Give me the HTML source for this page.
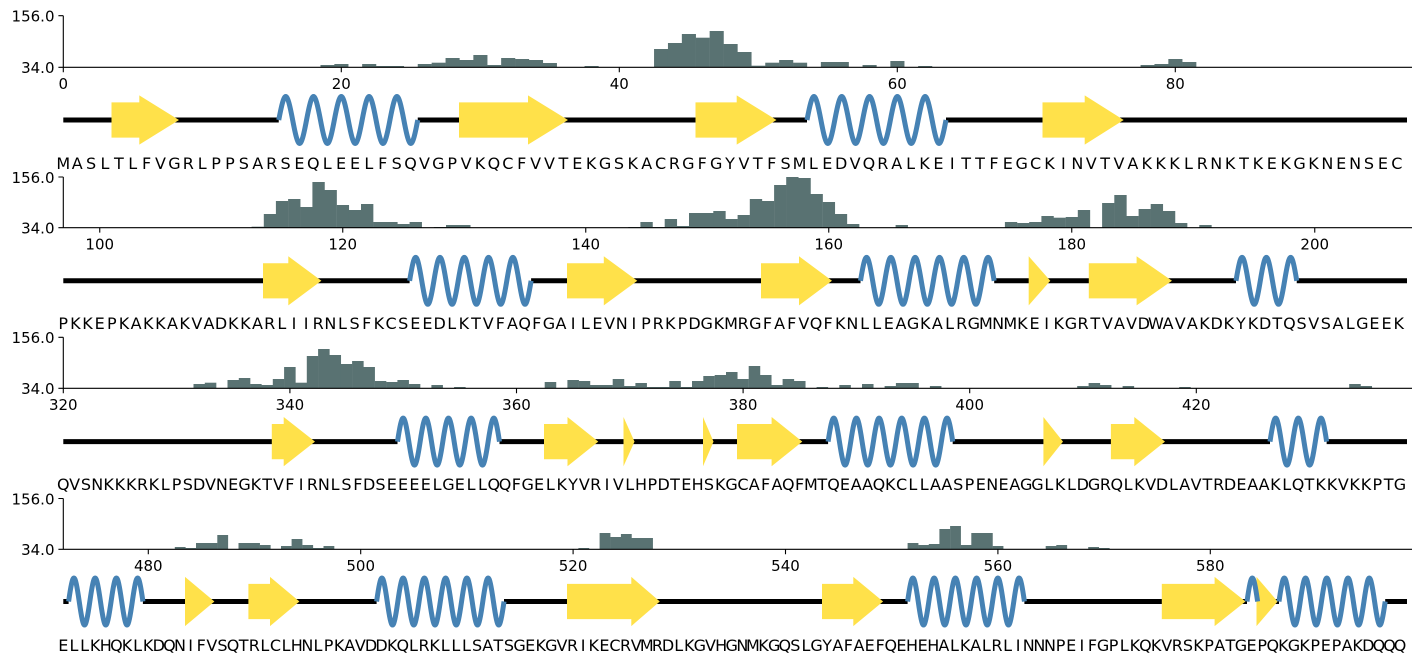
<!DOCTYPE html>
<html><head><meta charset="utf-8">
<style>
html,body{margin:0;padding:0;background:#fff;}
body{width:1425px;height:664px;position:relative;overflow:hidden;}
svg{position:absolute;left:0;top:0;}
.s{position:absolute;display:flex;font:16px/20px "DejaVu Sans","Liberation Sans",sans-serif;color:#000;white-space:nowrap;}
.s i{font-style:normal;display:flex;justify-content:center;flex:none;}
.r1 i{width:13.9px}.r2 i{width:12.15px}.r3 i{width:11.33px}.r4 i{width:10.62px}
</style></head><body>
<svg width="1425" height="664" viewBox="0 0 1425 664" xmlns="http://www.w3.org/2000/svg" font-family="DejaVu Sans, Liberation Sans, sans-serif" font-size="15">

<!-- ROW 1 -->
<g>
<g fill="#597272">
<rect x="320.45" y="65" width="14.1" height="2.3"/>
<rect x="334.35" y="64" width="14.1" height="3.3"/>
<rect x="362.15" y="64" width="14.1" height="3.3"/>
<rect x="376.05" y="66" width="28" height="1.3"/>
<rect x="417.75" y="64" width="14.1" height="3.3"/>
<rect x="431.65" y="62.7" width="14.1" height="4.6"/>
<rect x="445.55" y="58" width="14.1" height="9.3"/>
<rect x="459.45" y="60" width="14.1" height="7.3"/>
<rect x="473.35" y="55" width="14.1" height="12.3"/>
<rect x="487.25" y="65" width="14.1" height="2.3"/>
<rect x="501.15" y="58" width="14.1" height="9.3"/>
<rect x="515.05" y="59" width="14.1" height="8.3"/>
<rect x="528.95" y="60" width="14.1" height="7.3"/>
<rect x="542.85" y="63" width="14.1" height="4.3"/>
<rect x="584.55" y="66" width="14.1" height="1.3"/>
<rect x="654.05" y="49" width="14.1" height="18.3"/>
<rect x="667.95" y="43" width="14.1" height="24.3"/>
<rect x="681.85" y="34" width="14.1" height="33.3"/>
<rect x="695.75" y="37.7" width="14.1" height="29.6"/>
<rect x="709.65" y="31" width="14.1" height="36.3"/>
<rect x="723.55" y="44" width="14.1" height="23.3"/>
<rect x="737.45" y="52" width="14.1" height="15.3"/>
<rect x="751.35" y="65.7" width="14.1" height="1.6"/>
<rect x="765.25" y="62.7" width="14.1" height="4.6"/>
<rect x="779.15" y="60" width="14.1" height="7.3"/>
<rect x="793.05" y="62.7" width="14.1" height="4.6"/>
<rect x="820.85" y="62" width="28" height="5.3"/>
<rect x="862.55" y="65" width="14.1" height="2.3"/>
<rect x="890.35" y="61" width="14.1" height="6.3"/>
<rect x="918.15" y="66" width="14.1" height="1.3"/>
<rect x="1140.55" y="65" width="14.1" height="2.3"/>
<rect x="1154.45" y="64" width="14.1" height="3.3"/>
<rect x="1168.35" y="59" width="14.1" height="8.3"/>
<rect x="1182.25" y="62" width="14.1" height="5.3"/>
</g>
<path d="M63.3 15.7V67.3H1412M58.4 15.7H63.3M58.4 67.3H63.3M63.3 67.3v4.9M341.3 67.3v4.9M619.3 67.3v4.9M897.3 67.3v4.9M1175.3 67.3v4.9" stroke="#000" stroke-width="1.1" fill="none"/>
<text x="54.5" y="21.5" text-anchor="end">156.0</text>
<text x="54.5" y="73" text-anchor="end">34.0</text>
<g text-anchor="middle">
<text x="63.3" y="89">0</text><text x="341.3" y="89">20</text><text x="619.3" y="89">40</text><text x="897.3" y="89">60</text><text x="1175.3" y="89">80</text>
</g>
<path d="M63.3 120H278.75M417.75 120H807M946 120H1407" stroke="#000" stroke-width="5" fill="none"/>
<g fill="#ffe14a">
<polygon points="111.5,102.4 139.3,102.4 139.3,95.4 179,120 139.3,144.6 139.3,137.6 111.5,137.6"/>
<polygon points="459,102.4 528,102.4 528,95.4 568,120 528,144.6 528,137.6 459,137.6"/>
<polygon points="695.5,102.4 736.7,102.4 736.7,95.4 776.5,120 736.7,144.6 736.7,137.6 695.5,137.6"/>
<polygon points="1042.5,102.4 1084.7,102.4 1084.7,95.4 1123.7,120 1084.7,144.6 1084.7,137.6 1042.5,137.6"/>
</g>
<g stroke="#4682b4" stroke-width="5" fill="none">
<path d="M278.75 120c5.9 -31.3 8 -31.3 13.9 0s8 31.3 13.9 0s8 -31.3 13.9 0s8 31.3 13.9 0s8 -31.3 13.9 0s8 31.3 13.9 0s8 -31.3 13.9 0s8 31.3 13.9 0s8 -31.3 13.9 0s8 31.3 13.9 0"/>
<path d="M807 120c5.9 -31.3 8 -31.3 13.9 0s8 31.3 13.9 0s8 -31.3 13.9 0s8 31.3 13.9 0s8 -31.3 13.9 0s8 31.3 13.9 0s8 -31.3 13.9 0s8 31.3 13.9 0s8 -31.3 13.9 0s8 31.3 13.9 0"/>
</g>
</g>

<!-- ROW 2 -->
<g transform="translate(0,160.4)">
<g fill="#597272">
<rect x="251.6" y="66.3" width="12.35" height="1"/>
<rect x="263.8" y="53.6" width="12.35" height="13.7"/>
<rect x="275.9" y="40.6" width="12.35" height="26.7"/>
<rect x="288.1" y="38.6" width="12.35" height="28.7"/>
<rect x="300.2" y="46.6" width="12.35" height="20.7"/>
<rect x="312.4" y="21.6" width="12.35" height="45.7"/>
<rect x="324.5" y="29.6" width="12.35" height="37.7"/>
<rect x="336.7" y="44.6" width="12.35" height="22.7"/>
<rect x="348.8" y="49.6" width="12.35" height="17.7"/>
<rect x="361" y="43.6" width="12.35" height="23.7"/>
<rect x="373.1" y="61.6" width="24.5" height="5.7"/>
<rect x="397.4" y="63.6" width="12.35" height="3.7"/>
<rect x="409.6" y="61.6" width="12.35" height="5.7"/>
<rect x="433.9" y="66.6" width="12.35" height="0.7"/>
<rect x="446" y="64.6" width="24.5" height="2.7"/>
<rect x="628.3" y="66.6" width="12.35" height="0.7"/>
<rect x="640.4" y="61.6" width="12.35" height="5.7"/>
<rect x="652.6" y="66.6" width="12.35" height="0.7"/>
<rect x="664.7" y="58.6" width="12.35" height="8.7"/>
<rect x="676.9" y="65.6" width="12.35" height="1.7"/>
<rect x="689" y="52.6" width="24.5" height="14.7"/>
<rect x="713.3" y="50.6" width="12.35" height="16.7"/>
<rect x="725.5" y="58.6" width="12.35" height="8.7"/>
<rect x="737.6" y="54.6" width="12.35" height="12.7"/>
<rect x="749.8" y="38.6" width="12.35" height="28.7"/>
<rect x="761.9" y="40.6" width="12.35" height="26.7"/>
<rect x="774.1" y="24.6" width="12.35" height="42.7"/>
<rect x="786.2" y="16.6" width="12.35" height="50.7"/>
<rect x="798.4" y="17.6" width="12.35" height="49.7"/>
<rect x="810.5" y="33.6" width="12.35" height="33.7"/>
<rect x="822.7" y="41.6" width="12.35" height="25.7"/>
<rect x="834.8" y="53.6" width="12.35" height="13.7"/>
<rect x="847" y="63.6" width="12.35" height="3.7"/>
<rect x="895.6" y="64.6" width="12.35" height="2.7"/>
<rect x="1004.9" y="61.6" width="12.35" height="5.7"/>
<rect x="1017.1" y="62.6" width="12.35" height="4.7"/>
<rect x="1029.2" y="61.6" width="12.35" height="5.7"/>
<rect x="1041.4" y="55.6" width="12.35" height="11.7"/>
<rect x="1053.5" y="57.3" width="12.35" height="10"/>
<rect x="1065.7" y="56.6" width="12.35" height="10.7"/>
<rect x="1077.8" y="49.6" width="12.35" height="17.7"/>
<rect x="1102.1" y="42.6" width="12.35" height="24.7"/>
<rect x="1114.3" y="34.6" width="12.35" height="32.7"/>
<rect x="1126.4" y="55.6" width="12.35" height="11.7"/>
<rect x="1138.6" y="48.6" width="12.35" height="18.7"/>
<rect x="1150.7" y="43.6" width="12.35" height="23.7"/>
<rect x="1162.9" y="50.6" width="12.35" height="16.7"/>
<rect x="1175" y="62.6" width="12.35" height="4.7"/>
<rect x="1199.3" y="64.6" width="12.35" height="2.7"/>
</g>
<path d="M63.3 16.6V67.3H1412M58.4 16.6H63.3M58.4 67.3H63.3M99.75 67.3v4.9M342.75 67.3v4.9M585.75 67.3v4.9M828.75 67.3v4.9M1071.75 67.3v4.9M1314.75 67.3v4.9" stroke="#000" stroke-width="1.1" fill="none"/>
<text x="54.5" y="22.4" text-anchor="end">156.0</text>
<text x="54.5" y="73" text-anchor="end">34.0</text>
<g text-anchor="middle">
<text x="99.75" y="89">100</text><text x="342.75" y="89">120</text><text x="585.75" y="89">140</text><text x="828.75" y="89">160</text><text x="1071.75" y="89">180</text><text x="1314.75" y="89">200</text>
</g>
<path d="M63.3 120.4H409.6M531.1 120.4H860.5M994.2 120.4H1236M1296.75 120.4H1407" stroke="#000" stroke-width="5" fill="none"/>
<g fill="#ffe14a" transform="translate(0,0.4)">
<polygon points="263,102.4 288.3,102.4 288.3,95.4 321.4,120 288.3,144.6 288.3,137.6 263,137.6"/>
<polygon points="567,102.4 603.8,102.4 603.8,95.4 637.3,120 603.8,144.6 603.8,137.6 567,137.6"/>
<polygon points="761,102.4 799,102.4 799,95.4 832,120 799,144.6 799,137.6 761,137.6"/>
<polygon points="1028.7,95.4 1050.3,120 1028.7,144.6"/>
<polygon points="1088.8,102.4 1136.6,102.4 1136.6,95.4 1172,120 1136.6,144.6 1136.6,137.6 1088.8,137.6"/>
</g>
<g stroke="#4682b4" stroke-width="5" fill="none">
<path d="M409.6 120.4c5.16 -31.3 6.99 -31.3 12.15 0s6.99 31.3 12.15 0s6.99 -31.3 12.15 0s6.99 31.3 12.15 0s6.99 -31.3 12.15 0s6.99 31.3 12.15 0s6.99 -31.3 12.15 0s6.99 31.3 12.15 0s6.99 -31.3 12.15 0s6.99 31.3 12.15 0"/>
<path d="M860.5 120.4c5.16 -31.3 6.99 -31.3 12.15 0s6.99 31.3 12.15 0s6.99 -31.3 12.15 0s6.99 31.3 12.15 0s6.99 -31.3 12.15 0s6.99 31.3 12.15 0s6.99 -31.3 12.15 0s6.99 31.3 12.15 0s6.99 -31.3 12.15 0s6.99 31.3 12.15 0s6.99 -31.3 12.15 0"/>
<path d="M1236 120.4c5.16 -31.3 6.99 -31.3 12.15 0s6.99 31.3 12.15 0s6.99 -31.3 12.15 0s6.99 31.3 12.15 0s6.99 -31.3 12.15 0"/>
</g>
</g>

<!-- ROW 3 -->
<g transform="translate(0,321)">
<g fill="#597272">
<rect x="193.5" y="63" width="11.53" height="4.3"/>
<rect x="204.8" y="61.7" width="11.53" height="5.6"/>
<rect x="227.5" y="59" width="11.53" height="8.3"/>
<rect x="238.8" y="57" width="11.53" height="10.3"/>
<rect x="250.1" y="63" width="11.53" height="4.3"/>
<rect x="261.5" y="64" width="11.53" height="3.3"/>
<rect x="272.8" y="58" width="11.53" height="9.3"/>
<rect x="284.1" y="46" width="11.53" height="21.3"/>
<rect x="295.5" y="61.7" width="11.53" height="5.6"/>
<rect x="306.8" y="35" width="11.53" height="32.3"/>
<rect x="318.1" y="28" width="11.53" height="39.3"/>
<rect x="329.5" y="34" width="11.53" height="33.3"/>
<rect x="340.8" y="43" width="11.53" height="24.3"/>
<rect x="352.1" y="40" width="11.53" height="27.3"/>
<rect x="363.4" y="46" width="11.53" height="21.3"/>
<rect x="374.8" y="60" width="11.53" height="7.3"/>
<rect x="386.1" y="61" width="11.53" height="6.3"/>
<rect x="397.4" y="59" width="11.53" height="8.3"/>
<rect x="408.8" y="63" width="11.53" height="4.3"/>
<rect x="431.4" y="64" width="11.53" height="3.3"/>
<rect x="454.1" y="66" width="11.53" height="1.3"/>
<rect x="544.7" y="61" width="11.53" height="6.3"/>
<rect x="567.4" y="59" width="11.53" height="8.3"/>
<rect x="578.7" y="60" width="11.53" height="7.3"/>
<rect x="590" y="64" width="22.9" height="3.3"/>
<rect x="612.7" y="58" width="11.53" height="9.3"/>
<rect x="624" y="65" width="11.53" height="2.3"/>
<rect x="635.4" y="62" width="11.53" height="5.3"/>
<rect x="646.7" y="66" width="22.9" height="1.3"/>
<rect x="669.3" y="60" width="11.53" height="7.3"/>
<rect x="680.7" y="66" width="11.53" height="1.3"/>
<rect x="692" y="60" width="11.53" height="7.3"/>
<rect x="703.3" y="55" width="11.53" height="12.3"/>
<rect x="714.7" y="54" width="11.53" height="13.3"/>
<rect x="726" y="51" width="11.53" height="16.3"/>
<rect x="737.3" y="58" width="11.53" height="9.3"/>
<rect x="748.7" y="45" width="11.53" height="22.3"/>
<rect x="760" y="54" width="11.53" height="13.3"/>
<rect x="771.3" y="64" width="11.53" height="3.3"/>
<rect x="782.6" y="58" width="11.53" height="9.3"/>
<rect x="794" y="60" width="11.53" height="7.3"/>
<rect x="816.6" y="66" width="11.53" height="1.3"/>
<rect x="839.3" y="64" width="11.53" height="3.3"/>
<rect x="862" y="63" width="11.53" height="4.3"/>
<rect x="884.6" y="65" width="11.53" height="2.3"/>
<rect x="895.9" y="62" width="22.9" height="5.3"/>
<rect x="929.9" y="65" width="11.53" height="2.3"/>
<rect x="1077.2" y="65" width="11.53" height="2.3"/>
<rect x="1088.6" y="62" width="11.53" height="5.3"/>
<rect x="1099.9" y="64" width="11.53" height="3.3"/>
<rect x="1122.6" y="65" width="11.53" height="2.3"/>
<rect x="1179.2" y="66" width="11.53" height="1.3"/>
<rect x="1349.2" y="63" width="11.53" height="4.3"/>
<rect x="1360.5" y="65" width="11.53" height="2.3"/>
</g>
<path d="M63.3 16.3V67.3H1412M58.4 16.3H63.3M58.4 67.3H63.3M63.3 67.3v4.9M289.9 67.3v4.9M516.5 67.3v4.9M743.1 67.3v4.9M969.7 67.3v4.9M1196.3 67.3v4.9" stroke="#000" stroke-width="1.1" fill="none"/>
<text x="54.5" y="22.1" text-anchor="end">156.0</text>
<text x="54.5" y="73" text-anchor="end">34.0</text>
<g text-anchor="middle">
<text x="63.3" y="89">320</text><text x="289.9" y="89">340</text><text x="516.5" y="89">360</text><text x="743.1" y="89">380</text><text x="969.7" y="89">400</text><text x="1196.3" y="89">420</text>
</g>
<path d="M63.3 120.6H397.5M499.5 120.6H828.1M952.7 120.6H1270M1326.65 120.6H1407" stroke="#000" stroke-width="5" fill="none"/>
<g fill="#ffe14a" transform="translate(0,0.6)">
<polygon points="271.8,102.4 283.7,102.4 283.7,95.4 315,120 283.7,144.6 283.7,137.6 271.8,137.6"/>
<polygon points="544,102.4 567.5,102.4 567.5,95.4 598.3,120 567.5,144.6 567.5,137.6 544,137.6"/>
<polygon points="623.5,95.4 634.5,120 623.5,144.6"/>
<polygon points="703,95.4 713.5,120 703,144.6"/>
<polygon points="737,102.4 771.6,102.4 771.6,95.4 802.3,120 771.6,144.6 771.6,137.6 737,137.6"/>
<polygon points="1043.4,95.4 1063,120 1043.4,144.6"/>
<polygon points="1110.9,102.4 1134.3,102.4 1134.3,95.4 1165,120 1134.3,144.6 1134.3,137.6 1110.9,137.6"/>
</g>
<g stroke="#4682b4" stroke-width="5" fill="none">
<path d="M397.5 120.6c4.81 -31.3 6.52 -31.3 11.33 0s6.52 31.3 11.33 0s6.52 -31.3 11.33 0s6.52 31.3 11.33 0s6.52 -31.3 11.33 0s6.52 31.3 11.33 0s6.52 -31.3 11.33 0s6.52 31.3 11.33 0s6.52 -31.3 11.33 0"/>
<path d="M828.1 120.6c4.81 -31.3 6.52 -31.3 11.33 0s6.52 31.3 11.33 0s6.52 -31.3 11.33 0s6.52 31.3 11.33 0s6.52 -31.3 11.33 0s6.52 31.3 11.33 0s6.52 -31.3 11.33 0s6.52 31.3 11.33 0s6.52 -31.3 11.33 0s6.52 31.3 11.33 0s6.52 -31.3 11.33 0"/>
<path d="M1270 120.6c4.81 -31.3 6.52 -31.3 11.33 0s6.52 31.3 11.33 0s6.52 -31.3 11.33 0s6.52 31.3 11.33 0s6.52 -31.3 11.33 0"/>
</g>
</g>

<!-- ROW 4 -->
<g transform="translate(0,482)">
<g fill="#597272">
<rect x="174.8" y="65" width="10.82" height="2.3"/>
<rect x="185.4" y="66" width="10.82" height="1.3"/>
<rect x="196" y="61" width="21.44" height="6.3"/>
<rect x="217.3" y="53" width="10.82" height="14.3"/>
<rect x="238.5" y="61" width="21.44" height="6.3"/>
<rect x="259.8" y="63" width="10.82" height="4.3"/>
<rect x="281" y="64" width="10.82" height="3.3"/>
<rect x="291.6" y="57" width="10.82" height="10.3"/>
<rect x="302.3" y="63" width="10.82" height="4.3"/>
<rect x="312.9" y="66" width="10.82" height="1.3"/>
<rect x="323.5" y="64" width="10.82" height="3.3"/>
<rect x="578.4" y="66" width="10.82" height="1.3"/>
<rect x="599.6" y="51" width="10.82" height="16.3"/>
<rect x="610.2" y="55" width="10.82" height="12.3"/>
<rect x="620.9" y="52" width="10.82" height="15.3"/>
<rect x="631.5" y="56" width="21.44" height="11.3"/>
<rect x="907.6" y="61" width="10.82" height="6.3"/>
<rect x="918.2" y="63" width="10.82" height="4.3"/>
<rect x="928.8" y="62" width="10.82" height="5.3"/>
<rect x="939.4" y="47" width="10.82" height="20.3"/>
<rect x="950.1" y="44" width="10.82" height="23.3"/>
<rect x="960.7" y="63" width="10.82" height="4.3"/>
<rect x="971.3" y="51" width="21.44" height="16.3"/>
<rect x="992.6" y="64" width="10.82" height="3.3"/>
<rect x="1045.7" y="64" width="10.82" height="3.3"/>
<rect x="1056.3" y="63" width="10.82" height="4.3"/>
<rect x="1088.2" y="65" width="10.82" height="2.3"/>
<rect x="1098.8" y="66" width="10.82" height="1.3"/>
</g>
<path d="M63.3 16.5V67.3H1412M58.4 16.5H63.3M58.4 67.3H63.3M148.3 67.3v4.9M360.7 67.3v4.9M573.1 67.3v4.9M785.5 67.3v4.9M997.9 67.3v4.9M1210.3 67.3v4.9" stroke="#000" stroke-width="1.1" fill="none"/>
<text x="54.5" y="22.3" text-anchor="end">156.0</text>
<text x="54.5" y="73" text-anchor="end">34.0</text>
<g text-anchor="middle">
<text x="148.3" y="89">480</text><text x="360.7" y="89">500</text><text x="573.1" y="89">520</text><text x="785.5" y="89">540</text><text x="997.9" y="89">560</text><text x="1210.3" y="89">580</text>
</g>
<path d="M63.3 119.5H68.6M142.9 119.5H376.6M504 119.5H907.6M1024.4 119.5H1247M1257.6 119.5H1279M1385.2 119.5H1407" stroke="#000" stroke-width="5" fill="none"/>
<g fill="#ffe14a" transform="translate(0,-0.5)">
<polygon points="185,95.4 214.4,120 185,144.6"/>
<polygon points="248.4,102.4 270,102.4 270,95.4 299.4,120 270,144.6 270,137.6 248.4,137.6"/>
<polygon points="567,102.4 631.3,102.4 631.3,95.4 659.8,120 631.3,144.6 631.3,137.6 567,137.6"/>
<polygon points="822,102.4 853.3,102.4 853.3,95.4 883.1,120 853.3,144.6 853.3,137.6 822,137.6"/>
<polygon points="1161.8,102.4 1214.6,102.4 1214.6,95.4 1245.5,120 1214.6,144.6 1214.6,137.6 1161.8,137.6"/>
<polygon points="1256.5,95.4 1277.6,120 1256.5,144.6"/>
</g>
<g stroke="#4682b4" stroke-width="5" fill="none">
<path d="M68.6 119.5c4.51 -31.3 6.11 -31.3 10.62 0s6.11 31.3 10.62 0s6.11 -31.3 10.62 0s6.11 31.3 10.62 0s6.11 -31.3 10.62 0s6.11 31.3 10.62 0s6.11 -31.3 10.62 0"/>
<path d="M376.6 119.5c4.51 -31.3 6.11 -31.3 10.62 0s6.11 31.3 10.62 0s6.11 -31.3 10.62 0s6.11 31.3 10.62 0s6.11 -31.3 10.62 0s6.11 31.3 10.62 0s6.11 -31.3 10.62 0s6.11 31.3 10.62 0s6.11 -31.3 10.62 0s6.11 31.3 10.62 0s6.11 -31.3 10.62 0s6.11 31.3 10.62 0"/>
<path d="M907.6 119.5c4.51 -31.3 6.11 -31.3 10.62 0s6.11 31.3 10.62 0s6.11 -31.3 10.62 0s6.11 31.3 10.62 0s6.11 -31.3 10.62 0s6.11 31.3 10.62 0s6.11 -31.3 10.62 0s6.11 31.3 10.62 0s6.11 -31.3 10.62 0s6.11 31.3 10.62 0s6.11 -31.3 10.62 0"/>
<path d="M1247 119.5c4.51 -31.3 6.11 -31.3 10.62 0"/>
<path d="M1279 119.5c4.51 -31.3 6.11 -31.3 10.62 0s6.11 31.3 10.62 0s6.11 -31.3 10.62 0s6.11 31.3 10.62 0s6.11 -31.3 10.62 0s6.11 31.3 10.62 0s6.11 -31.3 10.62 0s6.11 31.3 10.62 0s6.11 -31.3 10.62 0s6.11 31.3 10.62 0"/>
</g>
</g>
</svg>

<div class="s r1" style="left:56.35px;top:153.5px"><i>M</i><i>A</i><i>S</i><i>L</i><i>T</i><i>L</i><i>F</i><i>V</i><i>G</i><i>R</i><i>L</i><i>P</i><i>P</i><i>S</i><i>A</i><i>R</i><i>S</i><i>E</i><i>Q</i><i>L</i><i>E</i><i>E</i><i>L</i><i>F</i><i>S</i><i>Q</i><i>V</i><i>G</i><i>P</i><i>V</i><i>K</i><i>Q</i><i>C</i><i>F</i><i>V</i><i>V</i><i>T</i><i>E</i><i>K</i><i>G</i><i>S</i><i>K</i><i>A</i><i>C</i><i>R</i><i>G</i><i>F</i><i>G</i><i>Y</i><i>V</i><i>T</i><i>F</i><i>S</i><i>M</i><i>L</i><i>E</i><i>D</i><i>V</i><i>Q</i><i>R</i><i>A</i><i>L</i><i>K</i><i>E</i><i>I</i><i>T</i><i>T</i><i>F</i><i>E</i><i>G</i><i>C</i><i>K</i><i>I</i><i>N</i><i>V</i><i>T</i><i>V</i><i>A</i><i>K</i><i>K</i><i>K</i><i>L</i><i>R</i><i>N</i><i>K</i><i>T</i><i>K</i><i>E</i><i>K</i><i>G</i><i>K</i><i>N</i><i>E</i><i>N</i><i>S</i><i>E</i><i>C</i></div>

<div class="s r2" style="left:57.2px;top:313.5px"><i>P</i><i>K</i><i>K</i><i>E</i><i>P</i><i>K</i><i>A</i><i>K</i><i>K</i><i>A</i><i>K</i><i>V</i><i>A</i><i>D</i><i>K</i><i>K</i><i>A</i><i>R</i><i>L</i><i>I</i><i>I</i><i>R</i><i>N</i><i>L</i><i>S</i><i>F</i><i>K</i><i>C</i><i>S</i><i>E</i><i>E</i><i>D</i><i>L</i><i>K</i><i>T</i><i>V</i><i>F</i><i>A</i><i>Q</i><i>F</i><i>G</i><i>A</i><i>I</i><i>L</i><i>E</i><i>V</i><i>N</i><i>I</i><i>P</i><i>R</i><i>K</i><i>P</i><i>D</i><i>G</i><i>K</i><i>M</i><i>R</i><i>G</i><i>F</i><i>A</i><i>F</i><i>V</i><i>Q</i><i>F</i><i>K</i><i>N</i><i>L</i><i>L</i><i>E</i><i>A</i><i>G</i><i>K</i><i>A</i><i>L</i><i>R</i><i>G</i><i>M</i><i>N</i><i>M</i><i>K</i><i>E</i><i>I</i><i>K</i><i>G</i><i>R</i><i>T</i><i>V</i><i>A</i><i>V</i><i>D</i><i>W</i><i>A</i><i>V</i><i>A</i><i>K</i><i>D</i><i>K</i><i>Y</i><i>K</i><i>D</i><i>T</i><i>Q</i><i>S</i><i>V</i><i>S</i><i>A</i><i>L</i><i>G</i><i>E</i><i>E</i><i>K</i></div>

<div class="s r3" style="left:57.6px;top:474.5px"><i>Q</i><i>V</i><i>S</i><i>N</i><i>K</i><i>K</i><i>K</i><i>R</i><i>K</i><i>L</i><i>P</i><i>S</i><i>D</i><i>V</i><i>N</i><i>E</i><i>G</i><i>K</i><i>T</i><i>V</i><i>F</i><i>I</i><i>R</i><i>N</i><i>L</i><i>S</i><i>F</i><i>D</i><i>S</i><i>E</i><i>E</i><i>E</i><i>E</i><i>L</i><i>G</i><i>E</i><i>L</i><i>L</i><i>Q</i><i>Q</i><i>F</i><i>G</i><i>E</i><i>L</i><i>K</i><i>Y</i><i>V</i><i>R</i><i>I</i><i>V</i><i>L</i><i>H</i><i>P</i><i>D</i><i>T</i><i>E</i><i>H</i><i>S</i><i>K</i><i>G</i><i>C</i><i>A</i><i>F</i><i>A</i><i>Q</i><i>F</i><i>M</i><i>T</i><i>Q</i><i>E</i><i>A</i><i>A</i><i>Q</i><i>K</i><i>C</i><i>L</i><i>L</i><i>A</i><i>A</i><i>S</i><i>P</i><i>E</i><i>N</i><i>E</i><i>A</i><i>G</i><i>G</i><i>L</i><i>K</i><i>L</i><i>D</i><i>G</i><i>R</i><i>Q</i><i>L</i><i>K</i><i>V</i><i>D</i><i>L</i><i>A</i><i>V</i><i>T</i><i>R</i><i>D</i><i>E</i><i>A</i><i>A</i><i>K</i><i>L</i><i>Q</i><i>T</i><i>K</i><i>K</i><i>V</i><i>K</i><i>K</i><i>P</i><i>T</i><i>G</i></div>

<div class="s r4" style="left:58px;top:635.5px"><i>E</i><i>L</i><i>L</i><i>K</i><i>H</i><i>Q</i><i>K</i><i>L</i><i>K</i><i>D</i><i>Q</i><i>N</i><i>I</i><i>F</i><i>V</i><i>S</i><i>Q</i><i>T</i><i>R</i><i>L</i><i>C</i><i>L</i><i>H</i><i>N</i><i>L</i><i>P</i><i>K</i><i>A</i><i>V</i><i>D</i><i>D</i><i>K</i><i>Q</i><i>L</i><i>R</i><i>K</i><i>L</i><i>L</i><i>L</i><i>S</i><i>A</i><i>T</i><i>S</i><i>G</i><i>E</i><i>K</i><i>G</i><i>V</i><i>R</i><i>I</i><i>K</i><i>E</i><i>C</i><i>R</i><i>V</i><i>M</i><i>R</i><i>D</i><i>L</i><i>K</i><i>G</i><i>V</i><i>H</i><i>G</i><i>N</i><i>M</i><i>K</i><i>G</i><i>Q</i><i>S</i><i>L</i><i>G</i><i>Y</i><i>A</i><i>F</i><i>A</i><i>E</i><i>F</i><i>Q</i><i>E</i><i>H</i><i>E</i><i>H</i><i>A</i><i>L</i><i>K</i><i>A</i><i>L</i><i>R</i><i>L</i><i>I</i><i>N</i><i>N</i><i>N</i><i>P</i><i>E</i><i>I</i><i>F</i><i>G</i><i>P</i><i>L</i><i>K</i><i>Q</i><i>K</i><i>V</i><i>R</i><i>S</i><i>K</i><i>P</i><i>A</i><i>T</i><i>G</i><i>E</i><i>P</i><i>Q</i><i>K</i><i>G</i><i>K</i><i>P</i><i>E</i><i>P</i><i>A</i><i>K</i><i>D</i><i>Q</i><i>Q</i><i>Q</i></div>
</body></html>
